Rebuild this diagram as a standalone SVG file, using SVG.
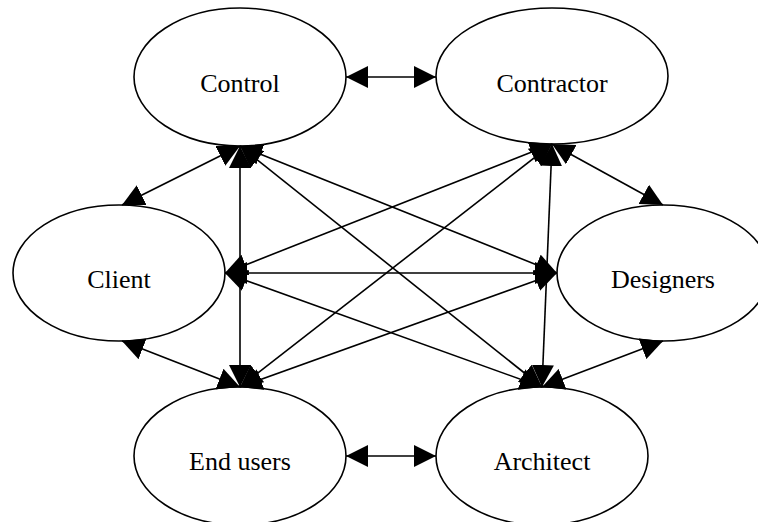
<svg xmlns="http://www.w3.org/2000/svg" width="758" height="522" viewBox="0 0 758 522">
  <style>
    .node ellipse { fill: #ffffff; stroke: #000000; stroke-width: 1.6; }
    .node text { font-family: "Times New Roman", "Liberation Serif", Tinos, "DejaVu Serif", serif; font-size: 26px; fill: #000000; text-anchor: middle; }
    .edges line { stroke: #000000; stroke-width: 1.6; fill: none; marker-start: url(#head); marker-end: url(#head); }
  </style>
  <defs>
    <marker id="head" markerUnits="userSpaceOnUse" markerWidth="22" markerHeight="22" viewBox="0 0 20 20" refX="20" refY="10" orient="auto-start-reverse">
      <path d="M0,0 L20,10 L0,20 Z" fill="#000000"/>
    </marker>
  </defs>
  <rect width="758" height="522" fill="#ffffff"/>

  <g id="node-control" class="node">
    <ellipse cx="240" cy="77" rx="106" ry="69"/>
    <text x="240" y="92">Control</text>
  </g>
  <g id="node-contractor" class="node">
    <ellipse cx="552" cy="76" rx="116" ry="68"/>
    <text x="552" y="92">Contractor</text>
  </g>
  <g id="node-client" class="node">
    <ellipse cx="119" cy="273" rx="106" ry="68"/>
    <text x="119" y="288">Client</text>
  </g>
  <g id="node-designers" class="node">
    <ellipse cx="663" cy="273" rx="106" ry="68"/>
    <text x="663" y="288">Designers</text>
  </g>
  <g id="node-end-users" class="node">
    <ellipse cx="240" cy="456" rx="106" ry="69"/>
    <text x="240" y="470">End users</text>
  </g>
  <g id="node-architect" class="node">
    <ellipse cx="542" cy="456" rx="106" ry="69"/>
    <text x="542" y="470">Architect</text>
  </g>

  <g id="connectors" class="edges">
    <line x1="346" y1="77" x2="436" y2="77"/>
    <line x1="346" y1="456" x2="436" y2="456"/>
    <line x1="240" y1="146" x2="122" y2="205"/>
    <line x1="240" y1="146" x2="240" y2="387"/>
    <line x1="240" y1="146" x2="557" y2="273"/>
    <line x1="240" y1="146" x2="542" y2="387"/>
    <line x1="225" y1="273" x2="552" y2="144"/>
    <line x1="240" y1="387" x2="552" y2="144"/>
    <line x1="552" y1="144" x2="663" y2="205"/>
    <line x1="552" y1="144" x2="542" y2="387"/>
    <line x1="225" y1="273" x2="557" y2="273"/>
    <line x1="225" y1="273" x2="542" y2="387"/>
    <line x1="122" y1="341" x2="240" y2="387"/>
    <line x1="240" y1="387" x2="557" y2="273"/>
    <line x1="663" y1="341" x2="542" y2="387"/>
  </g>
</svg>
